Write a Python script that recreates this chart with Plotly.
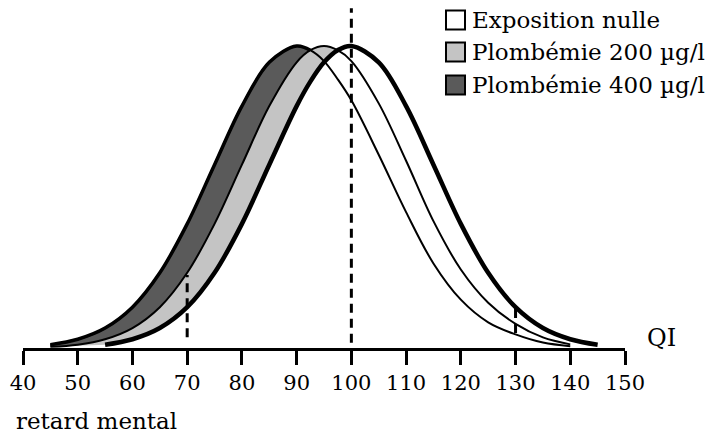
import plotly.graph_objects as go

# ---------------- data ----------------
QI = [40, 45, 50, 55, 60, 65, 70, 75, 80, 85, 90, 92.5, 95, 97.5, 100,
      105, 110, 115, 120, 125, 130, 135, 140, 145, 150]

# relative frequency (peak = 1) for each group
expo_nulle = [None, None, None, 0.011, 0.029, 0.066, 0.135, 0.249, 0.411, 0.607,
              0.801, 0.882, 0.946, 0.986, 1.0, 0.946, 0.801, 0.607, 0.411, 0.249,
              0.135, 0.066, 0.029, 0.011, None]
plomb_200 = [None, 0.004, 0.011, 0.029, 0.066, 0.135, 0.249, 0.411, 0.607, 0.801,
             0.946, 0.986, 1.0, 0.986, 0.95, 0.81, 0.62, 0.42, 0.26, 0.15,
             0.08, 0.035, 0.012, None, None]
plomb_400 = [None, 0.011, 0.029, 0.066, 0.135, 0.249, 0.411, 0.607, 0.801, 0.946,
             1.0, 0.986, 0.95, 0.89, 0.82, 0.64, 0.45, 0.28, 0.16, 0.085,
             0.045, 0.018, 0.006, None, None]

# crossing points: 400/200 at 92.5, 200/nulle at 97.5
cross_400_200 = 92.5
cross_200_0 = 97.5

# dashed reference lines
ref_qi = [70, 100, 130]
ref_top = [0.242, 1.125, 0.132]
ref_bottom = [0.036, 0.017, 0.05]

tick_vals = [40, 50, 60, 70, 80, 90, 100, 110, 120, 130, 140, 150]

legend_labels = ["Exposition nulle", "Plombémie 200 µg/l", "Plombémie 400 µg/l"]
legend_fills = ["#ffffff", "#c4c4c4", "#5a5a5a"]

FONT = "DejaVu Serif"
LIGHT = "#c4c4c4"
DARK = "#5a5a5a"


def segment(xs, ys, xmax):
    sx, sy = [], []
    for x, y in zip(xs, ys):
        if y is None or x > xmax:
            continue
        sx.append(x)
        sy.append(y)
    return sx, sy


fig = go.Figure()

# light band: between 200 µg/l curve and no-exposure curve (left side)
x0, y0 = segment(QI, expo_nulle, cross_200_0)
x2, y2 = segment(QI, plomb_200, cross_200_0)
fig.add_trace(go.Scatter(x=x0, y=y0, mode="lines", line=dict(width=0, shape="spline"),
                         hoverinfo="skip", showlegend=False))
fig.add_trace(go.Scatter(x=x2, y=y2, mode="lines", line=dict(width=0, shape="spline"),
                         fill="tonexty", fillcolor=LIGHT, hoverinfo="skip", showlegend=False))

# dark band: between 400 µg/l curve and 200 µg/l curve (left side)
x2b, y2b = segment(QI, plomb_200, cross_400_200)
x4, y4 = segment(QI, plomb_400, cross_400_200)
fig.add_trace(go.Scatter(x=x2b, y=y2b, mode="lines", line=dict(width=0, shape="spline"),
                         hoverinfo="skip", showlegend=False))
fig.add_trace(go.Scatter(x=x4, y=y4, mode="lines", line=dict(width=3.5, color="black", shape="spline"),
                         fill="tonexty", fillcolor=DARK, hoverinfo="skip", showlegend=False))

# curves
fig.add_trace(go.Scatter(x=QI, y=plomb_400, mode="lines",
                         line=dict(width=2, color="black", shape="spline"), showlegend=False))
fig.add_trace(go.Scatter(x=QI, y=plomb_200, mode="lines",
                         line=dict(width=2, color="black", shape="spline"), showlegend=False))
fig.add_trace(go.Scatter(x=QI, y=expo_nulle, mode="lines",
                         line=dict(width=4.5, color="black", shape="spline"), showlegend=False))

# dashed reference lines
dx, dy = [], []
for q, t, b in zip(ref_qi, ref_top, ref_bottom):
    dx += [q, q, None]
    dy += [b, t, None]
fig.add_trace(go.Scatter(x=dx, y=dy, mode="lines", cliponaxis=False,
                         line=dict(width=3, color="black", dash="9px,6px"), showlegend=False))

# ---------------- layout geometry ----------------
# the page body adds an 8 px offset, so the figure is 8 px smaller
OFF = 8
FIG_W, FIG_H = 727 - OFF, 438 - OFF
PLOT_L, PLOT_R, PLOT_T, PLOT_B = 23 - OFF, 625 - OFF, 0, 348 - OFF
W = PLOT_R - PLOT_L
H = PLOT_B - PLOT_T


def px(x):  # screen x -> paper
    return (x - OFF - PLOT_L) / W


def py(y):  # screen y -> paper
    return (PLOT_B - (y - OFF)) / H


row_y = [20, 52, 85]
for lab, col, ry in zip(legend_labels, legend_fills, row_y):
    fig.add_shape(type="rect", xref="paper", yref="paper",
                  x0=px(446), x1=px(465), y0=py(ry + 9.5), y1=py(ry - 9.5),
                  fillcolor=col, line=dict(color="black", width=2))
    fig.add_annotation(text=lab, xref="paper", yref="paper", x=px(470), y=py(ry),
                       xanchor="left", yanchor="middle", showarrow=False,
                       font=dict(family=FONT, size=23, color="black"))

fig.add_annotation(text="QI", xref="paper", yref="paper", x=px(645), y=py(338),
                   xanchor="left", yanchor="middle", showarrow=False,
                   font=dict(family=FONT, size=24, color="black"))
fig.add_annotation(text="retard mental", xref="paper", yref="paper", x=px(14), y=py(421),
                   xanchor="left", yanchor="middle", showarrow=False,
                   font=dict(family=FONT, size=23, color="black"))

fig.update_layout(
    width=FIG_W, height=FIG_H,
    margin=dict(l=PLOT_L, r=FIG_W - PLOT_R, t=PLOT_T, b=FIG_H - PLOT_B),
    paper_bgcolor="white", plot_bgcolor="white",
    xaxis=dict(range=[40, 150], tickvals=tick_vals, ticks="outside", ticklen=14,
               tickwidth=3, tickcolor="black", showline=True, linewidth=3,
               linecolor="black", showgrid=False, zeroline=False,
               tickfont=dict(family=FONT, size=21, color="black")),
    yaxis=dict(range=[0, H / 302], visible=False, showgrid=False, zeroline=False),
    showlegend=False,
)

fig.write_html("out.html")
